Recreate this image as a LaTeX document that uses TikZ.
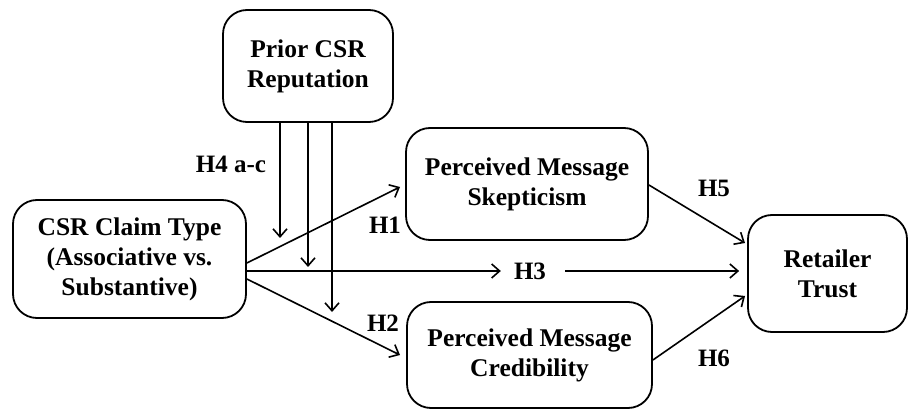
\documentclass[tikz,border=0pt]{standalone}
\usepackage{fontspec}
\setmainfont{Liberation Serif}
\usetikzlibrary{arrows.meta}
\begin{document}
\begin{tikzpicture}[x=1pt,y=-1pt,
  box/.style={draw, line width=1.8pt, rounded corners=24pt, align=center,
    font=\fontsize{25.5}{30}\selectfont\bfseries, inner sep=0pt},
  lab/.style={font=\fontsize{25}{29}\selectfont\bfseries, inner sep=1pt},
  arr/.style={line width=1.6pt, -{Straight Barb[length=8pt,width=14pt,line width=1.6pt]}},
  ln/.style={line width=1.6pt}]
\useasboundingbox (0,0) rectangle (909,411);
\node[box, minimum width=170pt, minimum height=112pt] (prior) at (308,66) {Prior CSR\\Reputation};
\node[box, minimum width=233pt, minimum height=118pt] (claim) at (129.5,259) {CSR Claim Type\\(Associative vs.\\Substantive)};
\node[box, minimum width=242pt, minimum height=112pt] (skep) at (527,184) {Perceived Message\\Skepticism};
\node[box, minimum width=245pt, minimum height=106pt] (cred) at (529.5,355) {Perceived Message\\Credibility};
\node[box, minimum width=159pt, minimum height=117pt] (trust) at (827.5,273.5) {Retailer\\Trust};
% labels
\node[lab] (h4) at (231,164) {H4 a-c};
\node[lab] (h1) at (385,225) {H1};
\node[lab] (h2) at (383,323) {H2};
\node[lab] (h3) at (530,271) {H3};
\node[lab] (h5) at (714,188) {H5};
\node[lab] (h6) at (714,358) {H6};
% coordinates
\coordinate (m1) at (280,238);
\coordinate (m2) at (308,267);
\coordinate (m3) at (332,312);
\coordinate (h1s) at (246,263);
\coordinate (h1e) at (400,187);
\coordinate (h2s) at (246,279);
\coordinate (h2e) at (400,355);
\coordinate (h3s) at (246,271);
\coordinate (h5s) at (648,185);
\coordinate (h5e) at (745,243);
\coordinate (h6s) at (652,360);
\coordinate (h6e) at (745,296);
% moderation arrows
\draw[arr] (prior.south -| m1) -- (m1);
\draw[arr] (prior.south -| m2) -- (m2);
\draw[arr] (prior.south -| m3) -- (m3);
% main paths
\draw[arr] (claim.east |- h1s) -- (h1e);
\draw[arr] (claim.east |- h2s) -- (h2e);
\draw[arr] (claim.east |- h3s) -- ([xshift=-12pt]h3.west);
\draw[arr] ([xshift=18pt]h3.east) -- ([xshift=-8pt]trust.west |- h3);
\draw[arr] (skep.east |- h5s) -- (h5e);
\draw[arr] (cred.east |- h6s) -- (h6e);
\end{tikzpicture}
\end{document}
